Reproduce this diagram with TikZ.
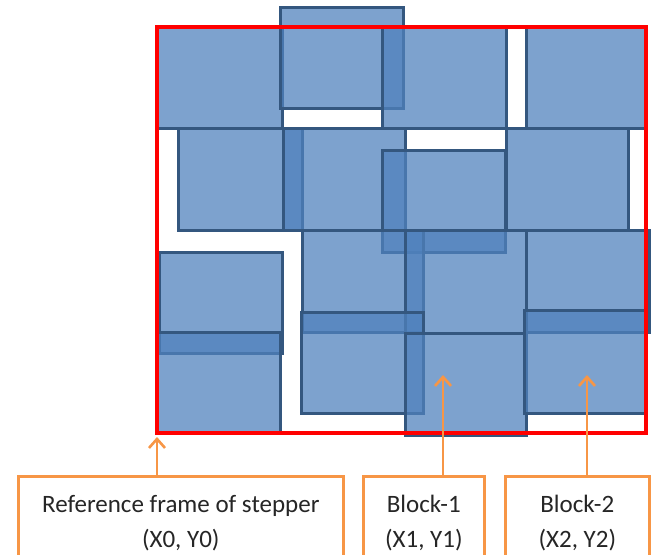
\documentclass[tikz,border=0pt]{standalone}
\usepackage{fontspec}
\setmainfont{Carlito}
\usetikzlibrary{arrows.meta}
\definecolor{blockfill}{HTML}{4F81BD}
\definecolor{blockline}{HTML}{34577F}
\definecolor{callout}{HTML}{F79646}
\definecolor{labeltext}{HTML}{262626}
\begin{document}
\begin{tikzpicture}[x=1pt,y=-1pt,
  blk/.style={fill=blockfill, fill opacity=0.74, draw=blockline, line width=3pt},
  stepframe/.style={draw=red, line width=3.8pt},
  labelbox/.style={draw=callout, line width=2.6pt, fill=white, align=center, text=labeltext,
    font=\fontsize{25}{35}\selectfont, inner sep=0pt, anchor=north west, minimum height=94pt},
  pointer/.style={draw=callout, line width=2.6pt, -{Straight Barb[length=9pt,width=16pt]}}]
\useasboundingbox (0,0) rectangle (653,554);
\clip (0,0) rectangle (653,554);

% exposure fields placed on the wafer
\draw[blk] (157,27) rectangle (282,128);
\draw[blk] (280,7) rectangle (403,108);
\draw[blk] (382,27) rectangle (506,128);
\draw[blk] (526,27) rectangle (646,128);
\draw[blk] (178,128) rectangle (302,230);
\draw[blk] (283,128) rectangle (405,230);
\draw[blk] (382,150) rectangle (505,252);
\draw[blk] (506,128) rectangle (628,230);
\draw[blk] (159,252) rectangle (282,353);
\draw[blk] (302,230) rectangle (423,332);
\draw[blk] (405,230) rectangle (526,333);
\draw[blk] (526,230) rectangle (649,332);
\draw[blk] (156,332) rectangle (280,433);
\draw[blk] (301,312) rectangle (423,413);
\draw[blk] (405,333) rectangle (526,435);
\draw[blk] (524,310) rectangle (645,413);

% stepper reference frame
\draw[stepframe] (157,27) rectangle (646,433);

% callout boxes
\node[labelbox, minimum width=325pt] (refbox) at (17,475) {Reference frame of stepper\\(X0, Y0)};
\node[labelbox, minimum width=121pt] (blkone) at (362,475) {Block-1\\(X1, Y1)};
\node[labelbox, minimum width=144pt] (blktwo) at (504,475) {Block-2\\(X2, Y2)};

\coordinate (origin) at (157,437);
\coordinate (b1tip) at (443,375);
\coordinate (b2tip) at (587,375);
\draw[pointer] (refbox.north -| origin) -- (origin);
\draw[pointer] (blkone.north -| b1tip) -- (b1tip);
\draw[pointer] (blktwo.north -| b2tip) -- (b2tip);
\end{tikzpicture}
\end{document}
